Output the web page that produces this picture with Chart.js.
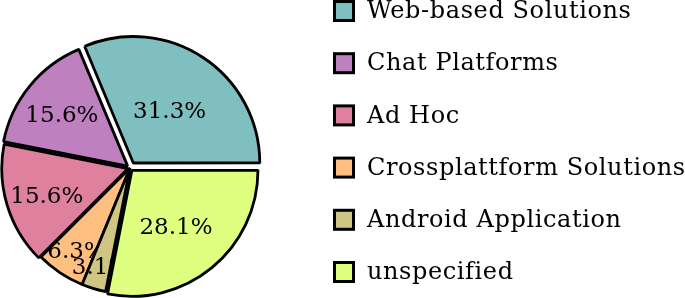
<!DOCTYPE html>
<html>
<head>
<meta charset="utf-8">
<script src="https://cdn.jsdelivr.net/npm/chart.js@4"></script>
<style>
  html, body { margin: 0; padding: 0; background: #ffffff; }
  #wrap { width: 685px; height: 298px; }
</style>
</head>
<body>
<div id="wrap"><canvas id="usage_pie_chart" width="685" height="298"></canvas></div>
<script>
// categories in legend order (counterclockwise from the east in the original)
const categories = ["Web-based Solutions", "Chat Platforms", "Ad Hoc", "Crossplattform Solutions", "Android Application", "unspecified"];
const percentages = [31.3, 15.6, 15.6, 6.3, 3.1, 28.1];
const slice_labels = ["31.3%", "15.6%", "15.6%", "6.3%", "3.1%", "28.1%"];

// light tints: teal, violet, purple, orange, olive, lime
const slice_colors = ["rgb(128,191,191)", "rgb(191,128,191)", "rgb(223,128,159)", "rgb(255,191,128)", "rgb(206,198,130)", "rgb(223,255,128)"];
// how far each slice is pulled out (Chart.js draws offset / 4)
const slice_offsets = [24, 12, 8, 0, 0, 12];

const font_family = "'DejaVu Serif', serif";

// Chart.js goes clockwise, the original goes counterclockwise, so reverse
const rev = (a) => a.slice().reverse();

const slice_order_plugin = {
    id: "slice_order",
    beforeDatasetDraw(chart, args) {
        const ctx = chart.ctx;
        const arcs = args.meta.data;
        const labels = rev(slice_labels);
        ctx.save();
        for (let i = arcs.length - 1; i >= 0; i--) {
            const arc = arcs[i];
            arc.draw(ctx, chart.chartArea);
            const p = arc.getProps(["x", "y", "startAngle", "endAngle", "outerRadius"], true);
            const mid = (p.startAngle + p.endAngle) / 2;
            const span = (p.endAngle - p.startAngle) * 180 / Math.PI;
            const frac = Math.max(Math.min((span - 10) / 110 * (-0.3), 0), -0.5) + 0.8;
            const dist = (arc.options.offset || 0) / 4 + frac * p.outerRadius;
            ctx.fillStyle = "#000000";
            ctx.font = "23px " + font_family;
            ctx.textAlign = "center";
            ctx.textBaseline = "middle";
            ctx.fillText(labels[i], p.x + Math.cos(mid) * dist, p.y + Math.sin(mid) * dist + 4);
        }
        ctx.restore();
        return false;
    }
};

const side_legend_plugin = {
    id: "side_legend",
    afterDraw(chart) {
        const ctx = chart.ctx;
        ctx.save();
        ctx.font = "24px " + font_family;
        ctx.letterSpacing = "0.6px";
        ctx.textAlign = "left";
        ctx.textBaseline = "middle";
        for (let i = 0; i < categories.length; i++) {
            const cy = 11 + i * 52.2;
            ctx.fillStyle = slice_colors[i];
            ctx.fillRect(334.5, cy - 9.5, 19, 19);
            ctx.lineWidth = 3;
            ctx.strokeStyle = "#000000";
            ctx.strokeRect(334.5, cy - 9.5, 19, 19);
            ctx.fillStyle = "#000000";
            ctx.fillText(categories[i], 367, cy + 1);
        }
        ctx.restore();
    }
};

const usage_pie_chart = new Chart("usage_pie_chart",
{
    type: "pie",
    data:
    {
        labels: rev(categories),
        datasets:
        [
            {
                data: rev(percentages),
                backgroundColor: rev(slice_colors),
                offset: rev(slice_offsets),
                borderColor: "#000000",
                borderWidth: 2.8
            }
        ]
    },
    options:
    {
        animation: false,
        responsive: false,
        devicePixelRatio: 1,
        rotation: 90,
        radius: 126,
        layout:
        {
            padding: { left: 0, right: 425, top: 38, bottom: 0 }
        },
        plugins:
        {
            legend: { display: false },
            tooltip: { enabled: false }
        }
    },
    plugins: [slice_order_plugin, side_legend_plugin]
});
</script>
</body>
</html>
